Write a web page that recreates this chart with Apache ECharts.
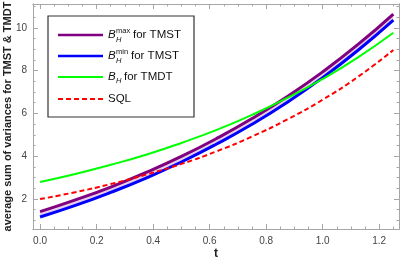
<!DOCTYPE html>
<html><head><meta charset="utf-8">
<script src="https://cdn.jsdelivr.net/npm/echarts@6/dist/echarts.min.js"></script>
<style>html,body{margin:0;padding:0;background:#fff}#c{width:401px;height:265px}</style>
</head><body><div id="c"></div>
<script>
var tValues   = [0, 0.125, 0.25, 0.375, 0.5, 0.625, 0.75, 0.875, 1.0, 1.125, 1.25];
var bMaxTMST  = [1.41, 1.96, 2.56, 3.24, 3.99, 4.83, 5.76, 6.79, 7.94, 9.22, 10.64];
var bMinTMST  = [1.16, 1.70, 2.31, 2.98, 3.73, 4.57, 5.49, 6.52, 7.67, 8.95, 10.36];
var bHTMDT    = [2.80, 3.17, 3.60, 4.07, 4.62, 5.23, 5.93, 6.72, 7.61, 8.62, 9.77];
var sqlValues = [2.00, 2.32, 2.70, 3.14, 3.64, 4.23, 4.92, 5.72, 6.64, 7.71, 8.96];

var xLabelTicks = [0, 0.2, 0.4, 0.6, 0.8, 1.0, 1.2];
var xMinorTicks = [0.05,0.1,0.15,0.25,0.3,0.35,0.45,0.5,0.55,0.65,0.7,0.75,0.85,0.9,0.95,1.05,1.1,1.15,1.25];
var yLabelTicks = [2, 4, 6, 8, 10];
var yMinorTicks = [1,1.5,2.5,3,3.5,4.5,5,5.5,6.5,7,7.5,8.5,9,9.5,10.5,11];

var X_MIN = -0.025, X_MAX = 1.27, Y_MIN = 0.6, Y_MAX = 11.11;
function pairs(ys){ return tValues.map(function(t,i){ return [t, ys[i]]; }); }

var F = 'Liberation Sans, Arial';
var frameColor = '#a6a6a6';
function xAx(pos, ticks, len, labels){
  return {type:'value', min:X_MIN, max:X_MAX, position:pos, z:5,
    axisLine:{show:true, onZero:false, lineStyle:{color:frameColor, width:1}},
    splitLine:{show:false},
    axisTick:{show:true, inside:true, length:len, customValues:ticks, lineStyle:{color:frameColor}},
    axisLabel:labels ? {show:true, customValues:xLabelTicks, margin:7, color:'#444', fontSize:10, fontFamily:F,
       formatter:function(v){ return (+v).toFixed(1); }} : {show:false}
  };
}
function yAx(pos, ticks, len, labels){
  return {type:'value', min:Y_MIN, max:Y_MAX, position:pos, z:5,
    axisLine:{show:true, onZero:false, lineStyle:{color:frameColor, width:1}},
    splitLine:{show:false},
    axisTick:{show:true, inside:true, length:len, customValues:ticks, lineStyle:{color:frameColor}},
    axisLabel:labels ? {show:true, customValues:yLabelTicks, margin:6, color:'#444', fontSize:10, fontFamily:F,
       formatter:function(v){ return String(Math.round(v)); }} : {show:false}
  };
}
var xAxes = [xAx('bottom', xLabelTicks, 5, true), xAx('bottom', xMinorTicks, 2.5, false), xAx('top', xLabelTicks, 5, false), xAx('top', xMinorTicks, 2.5, false)];
xAxes[0].name = 't'; xAxes[0].nameLocation = 'middle'; xAxes[0].nameGap = 19; xAxes[0].nameMoveOverlap = false;
xAxes[0].nameTextStyle = {fontSize:12, fontWeight:'bold', color:'#222', fontFamily:F};
var yAxes = [yAx('left', yLabelTicks, 5, true), yAx('left', yMinorTicks, 2.5, false), yAx('right', yLabelTicks, 5, false), yAx('right', yMinorTicks, 2.5, false)];
yAxes[0].name = 'average sum of variances for TMST & TMDT'; yAxes[0].nameLocation = 'middle'; yAxes[0].nameGap = 20; yAxes[0].nameMoveOverlap = false;
yAxes[0].nameTextStyle = {fontSize:11, fontWeight:'bold', color:'#222', fontFamily:F};

var legendRows = [
  {y:35, color:'#800080', dash:null, w:2.5},
  {y:56, color:'#0000ff', dash:null, w:2.5},
  {y:77, color:'#00ff00', dash:null, w:2},
  {y:99, color:'#ff0000', dash:[5,3], w:2}
];
var legendGraphics = [{type:'rect', shape:{x:48, y:16, width:146, height:101}, style:{fill:'#fff', stroke:'#333', lineWidth:1.2}, z:10}];
legendRows.forEach(function(r){
  legendGraphics.push({type:'line', shape:{x1:58, y1:r.y, x2:103, y2:r.y}, style:{stroke:r.color, lineWidth:r.w, lineDash:r.dash}, z:11});
});
function txt(x,y,s,size,italic){ return {type:'text', x:x, y:y, z:11, style:{text:s, fill:'#111', font:(italic?'italic ':'')+size+'px '+F, textVerticalAlign:'middle'}}; }
legendGraphics.push(txt(108,35,'B',11.5,true), txt(116,31,'max',7.5,false), txt(116,39.5,'H',7.5,true), txt(133,35,'for TMST',11.5,false));
legendGraphics.push(txt(108,56,'B',11.5,true), txt(116,52,'min',7.5,false), txt(116,60.5,'H',7.5,true), txt(131,56,'for TMST',11.5,false));
legendGraphics.push(txt(108,77,'B',11.5,true), txt(116,80.5,'H',7.5,true), txt(124,77,'for TMDT',11.5,false));
legendGraphics.push(txt(108,99,'SQL',11.5,false));

var chart = echarts.init(document.getElementById('c'), null, {renderer:'canvas'});
chart.setOption({
  animation:false,
  grid:{left:33, right:2, top:4, bottom:36, containLabel:false, outerBoundsMode:'none'},
  xAxis: xAxes,
  yAxis: yAxes,
  series:[
    {name:'band', type:'custom', data:pairs(bMaxTMST), silent:true, z:1,
     renderItem:function(params, api){
       if (params.dataIndex !== 0) return null;
       var pts = [];
       for (var i=0;i<tValues.length;i++) pts.push(api.coord([tValues[i], bMaxTMST[i]]));
       for (var j=tValues.length-1;j>=0;j--) pts.push(api.coord([tValues[j], bMinTMST[j]]));
       return {type:'polygon', shape:{points:pts}, style:{fill:'#e8cfe8'}};
     }},
    {name:'B_H^max for TMST', type:'line', data:pairs(bMaxTMST), smooth:true, symbol:'none', lineStyle:{color:'#800080', width:3}, z:3},
    {name:'B_H^min for TMST', type:'line', data:pairs(bMinTMST), smooth:true, symbol:'none', lineStyle:{color:'#0000ff', width:3}, z:3},
    {name:'B_H for TMDT', type:'line', data:pairs(bHTMDT), smooth:true, symbol:'none', lineStyle:{color:'#00ff00', width:2}, z:4},
    {name:'SQL', type:'line', data:pairs(sqlValues), smooth:true, symbol:'none', lineStyle:{color:'#ff0000', width:2, type:[5,3]}, z:5}
  ],
  graphic: legendGraphics
});
</script></body></html>
